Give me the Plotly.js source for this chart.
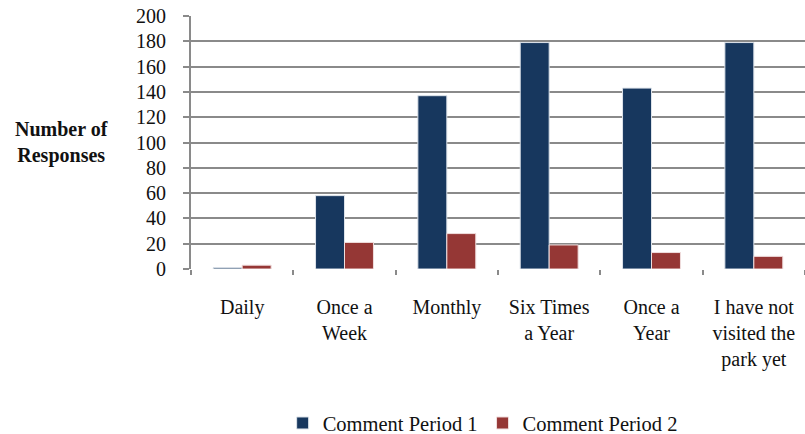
<!DOCTYPE html>
<html>
<head>
<meta charset="utf-8">
<script src="https://cdn.plot.ly/plotly-3.0.1.min.js"></script>
<style>html,body{margin:0;padding:0;background:#fff;}#chart{width:805px;height:434px;}</style>
</head>
<body>
<div id="chart"></div>
<script>
var categories = ["Daily", "Once a<br>Week", "Monthly", "Six Times<br>a Year", "Once a<br>Year", "I have not<br>visited the<br>park yet"];
var period1 = [1, 58, 137, 179, 143, 179];
var period2 = [3, 21, 28, 19, 13, 10];
var seriesNames = ["Comment Period 1", "Comment Period 2"];
var yTicks = [0, 20, 40, 60, 80, 100, 120, 140, 160, 180, 200];

var fontFam = "'Liberation Serif', 'DejaVu Serif', serif";
var traces = [
  {type: "bar", x: categories, y: period1, name: seriesNames[0],
   marker: {color: "#17375E", line: {color: "#dde3ea", width: 1}}},
  {type: "bar", x: categories, y: period2, name: seriesNames[1],
   marker: {color: "#953735", line: {color: "#f0dede", width: 1}}}
];
var layout = {
  width: 805, height: 434,
  margin: {l: 191, r: 0, t: 16, b: 165},
  paper_bgcolor: "#fff", plot_bgcolor: "#fff",
  barmode: "group", bargap: 0.434, bargroupgap: 0,
  font: {family: fontFam, size: 20, color: "#111"},
  xaxis: {
    type: "category", showgrid: false, showline: false, zeroline: false, automargin: false,
    ticks: "outside", tickson: "boundaries", ticklen: 5, tickcolor: "#8a8a8a", tickwidth: 2,
    ticklabelstandoff: 24, tickfont: {family: fontFam, size: 20, color: "#111"}
  },
  yaxis: {
    range: [0, 200], tickvals: yTicks, showgrid: true, gridcolor: "#8a8a8a", gridwidth: 2,
    showline: true, linecolor: "#8a8a8a", linewidth: 2, zeroline: false, automargin: false,
    ticks: "outside", ticklen: 6, tickcolor: "#8a8a8a", tickwidth: 2,
    ticklabelstandoff: 13, tickfont: {family: fontFam, size: 20, color: "#111"}
  },
  showlegend: true,
  legend: {orientation: "h", x: 0.475, xanchor: "center", yref: "container", y: 0.025, yanchor: "middle",
    font: {family: fontFam, size: 20.5, color: "#111"}, itemwidth: 30, tracegroupgap: 0},
  annotations: [{
    xref: "paper", yref: "paper", x: -0.2117, y: 0.5, xanchor: "center", yanchor: "middle",
    text: "<b>Number of<br>Responses</b>", showarrow: false, align: "center",
    font: {family: fontFam, size: 20, color: "#111"}
  }]
};
Plotly.newPlot("chart", traces, layout, {displayModeBar: false, staticPlot: true});
</script>
</body>
</html>
